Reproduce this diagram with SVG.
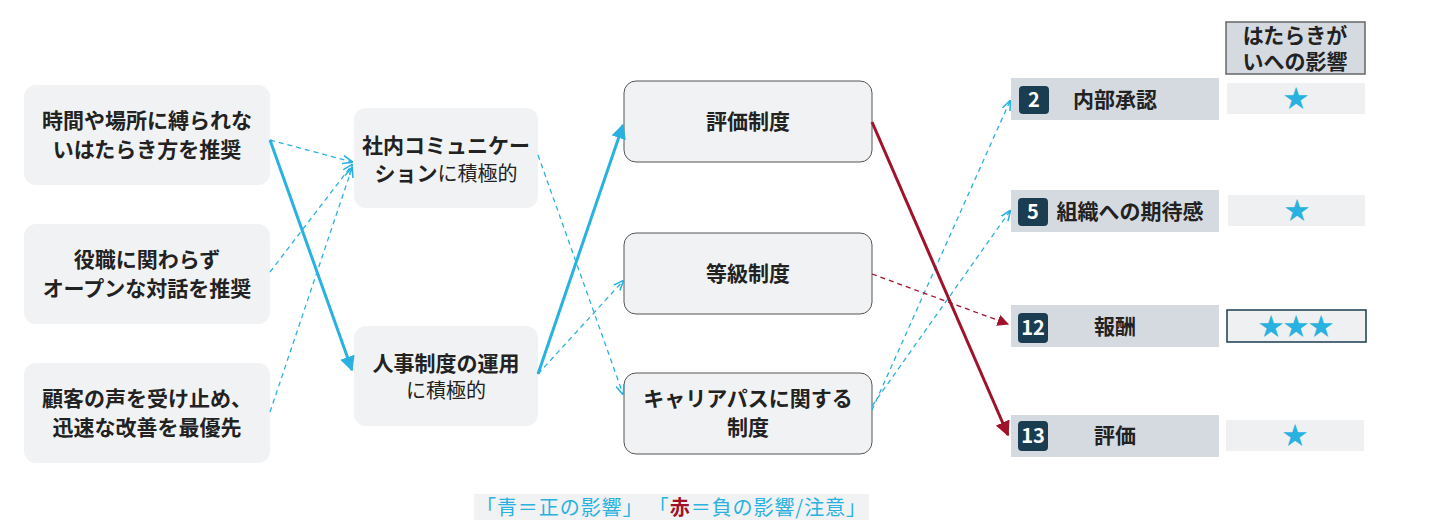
<svg xmlns="http://www.w3.org/2000/svg" width="1438" height="529" viewBox="0 0 1438 529">
<style>
text{font-family:"Noto Sans CJK JP","Noto Sans",sans-serif;fill:#222}
.n{fill:#f1f2f3}
.b{font-weight:bold;font-size:21px}
.r{font-size:20px}
.row{fill:#d5dae1}
.badge{fill:#1b3d52}
.bt{fill:#fff;font-weight:bold;font-size:20px}
.st{fill:#eef0f2}
.star{fill:#29b2e0;font-size:25px}
.bl{stroke:#29b2e0;fill:none}
.rd{stroke:#a0122a;fill:none}
.d{stroke-dasharray:5 4;stroke-width:1.3}
.s{stroke-width:3}
</style>
<defs>
<marker id="ab" viewBox="0 0 10 10" refX="9" refY="5" markerWidth="5" markerHeight="5" orient="auto"><path d="M0,0L10,5L0,10z" fill="#29b2e0"/></marker>
<marker id="ar" viewBox="0 0 10 10" refX="9" refY="5" markerWidth="5" markerHeight="5" orient="auto"><path d="M0,0L10,5L0,10z" fill="#a0122a"/></marker>
<marker id="abd" viewBox="0 0 10 10" refX="9" refY="5" markerWidth="8" markerHeight="8" orient="auto"><path d="M0,1L10,5L0,9" fill="none" stroke="#29b2e0" stroke-width="1.5"/></marker>
<marker id="ard" viewBox="0 0 10 10" refX="9" refY="5" markerWidth="9" markerHeight="9" orient="auto"><path d="M0,0L10,5L0,10z" fill="#a0122a"/></marker>
</defs>
<g id="n1"><rect class="n" x="24" y="85" width="246" height="100" rx="12"/><text class="b" x="147" y="128" text-anchor="middle">時間や場所に縛られな</text><text class="b" x="147" y="157" text-anchor="middle">いはたらき方を推奨</text></g>
<g id="n2"><rect class="n" x="24" y="224" width="246" height="100" rx="12"/><text class="b" x="147" y="267" text-anchor="middle">役職に関わらず</text><text class="b" x="147" y="296" text-anchor="middle">オープンな対話を推奨</text></g>
<g id="n3"><rect class="n" x="24" y="363" width="246" height="100" rx="12"/><text class="b" x="147" y="406" text-anchor="middle">顧客の声を受け止め、</text><text class="b" x="147" y="435" text-anchor="middle">迅速な改善を最優先</text></g>
<g id="m1"><rect class="n" x="354" y="108" width="184" height="100" rx="12"/><text class="b" x="446" y="153" text-anchor="middle">社内コミュニケー</text><text x="446" y="181" text-anchor="middle"><tspan class="b">ション</tspan><tspan class="r">に積極的</tspan></text></g>
<g id="m2"><rect class="n" x="354" y="326" width="184" height="100" rx="12"/><text class="b" x="446" y="371" text-anchor="middle">人事制度の運用</text><text class="r" x="446" y="398" text-anchor="middle">に積極的</text></g>
<g id="p1"><rect class="n" x="624" y="81" width="248" height="81" rx="12" stroke="#555" stroke-width="1"/><text class="b" x="748" y="129" text-anchor="middle">評価制度</text></g>
<g id="p2"><rect class="n" x="624" y="233" width="248" height="81" rx="12" stroke="#555" stroke-width="1"/><text class="b" x="748" y="281" text-anchor="middle">等級制度</text></g>
<g id="p3"><rect class="n" x="624" y="373" width="248" height="81" rx="12" stroke="#555" stroke-width="1"/><text class="b" x="748" y="406" text-anchor="middle">キャリアパスに関する</text><text class="b" x="748" y="435" text-anchor="middle">制度</text></g>
<g id="hdr"><rect x="1226" y="22" width="139" height="52" fill="#d5dae1" stroke="#666" stroke-width="1.5"/><text class="b" x="1295" y="43" text-anchor="middle" font-size="18">はたらきが</text><text class="b" x="1295" y="69" text-anchor="middle" font-size="18">いへの影響</text></g>
<g id="r2"><rect class="row" x="1011" y="78" width="208" height="42"/><rect class="badge" x="1019" y="86" width="30" height="28" rx="4"/><text class="bt" x="1034" y="107" text-anchor="middle">2</text><text class="b" x="1115" y="107" text-anchor="middle" font-size="20">内部承認</text><rect class="st" x="1227" y="83" width="138" height="31"/><text class="star" x="1296" y="107" text-anchor="middle">★</text></g>
<g id="r5"><rect class="row" x="1011" y="190" width="208" height="42"/><rect class="badge" x="1018" y="198" width="30" height="28" rx="4"/><text class="bt" x="1033" y="219" text-anchor="middle">5</text><text class="b" x="1130" y="219" text-anchor="middle" font-size="20">組織への期待感</text><rect class="st" x="1228" y="195" width="137" height="31"/><text class="star" x="1297" y="219" text-anchor="middle">★</text></g>
<g id="r12"><rect class="row" x="1011" y="305" width="208" height="42"/><rect class="badge" x="1018" y="313" width="30" height="30" rx="4"/><text class="bt" x="1033" y="335" text-anchor="middle">12</text><text class="b" x="1115" y="334" text-anchor="middle" font-size="20">報酬</text><rect class="st" x="1227" y="310" width="139" height="32" stroke="#1b3d52" stroke-width="1.5"/><text class="star" x="1296" y="335" text-anchor="middle">★★★</text></g>
<g id="r13"><rect class="row" x="1011" y="415" width="208" height="42"/><rect class="badge" x="1018" y="421" width="30" height="30" rx="4"/><text class="bt" x="1033" y="443" text-anchor="middle">13</text><text class="b" x="1115" y="443" text-anchor="middle" font-size="20">評価</text><rect class="st" x="1226" y="420" width="138" height="31"/><text class="star" x="1295" y="444" text-anchor="middle">★</text></g>
<g id="connectors">
<path class="bl s" d="M270,140L352,370" marker-end="url(#ab)"/>
<path class="bl s" d="M538,374L623,125" marker-end="url(#ab)"/>
<path class="bl d" d="M270,140L352,162" marker-end="url(#abd)"/>
<path class="bl d" d="M270,272L352,165" marker-end="url(#abd)"/>
<path class="bl d" d="M270,412L352,168" marker-end="url(#abd)"/>
<path class="bl d" d="M538,155L623,394" marker-end="url(#abd)"/>
<path class="bl d" d="M538,374L623,281" marker-end="url(#abd)"/>
<path class="bl d" d="M872,410L1010,101" marker-end="url(#abd)"/>
<path class="bl d" d="M872,406L1010,211" marker-end="url(#abd)"/>
<path class="rd s" d="M872,122L1008,435" stroke-width="2.5" marker-end="url(#ar)"/>
<path class="rd d" d="M872,274L1008,324" marker-end="url(#ard)"/>
</g>
<g id="legend"><rect x="474" y="494" width="395" height="26" fill="#f1f2f3"/><text x="476" y="515" font-size="20" textLength="390"><tspan fill="#29b2e0">「青＝正の影響」 「</tspan><tspan fill="#a0122a" font-weight="bold">赤</tspan><tspan fill="#29b2e0">＝負の影響/注意」</tspan></text></g>
</svg>
